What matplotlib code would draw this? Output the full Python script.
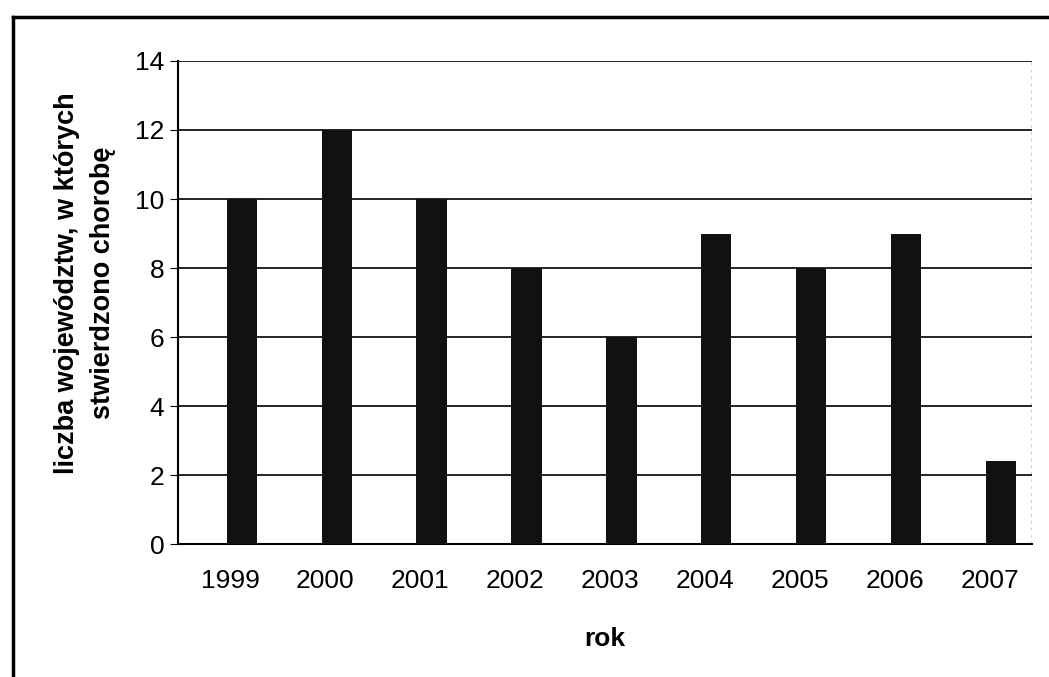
import matplotlib.pyplot as plt
from matplotlib.lines import Line2D
import numpy as np

plt.rcParams['font.family'] = ['Liberation Sans', 'DejaVu Sans']

# dane z wykresu
lata = ["1999", "2000", "2001", "2002", "2003", "2004", "2005", "2006", "2007"]
liczba = [10, 12, 10, 8, 6, 9, 8, 9, 2.4]

x = np.arange(len(lata))

fig = plt.figure(figsize=(10.49, 6.77), dpi=100)
ax = fig.add_axes([0.170, 0.196, 0.814, 0.714])

ax.bar(x + 0.12, liczba, width=0.32, color="#111111", zorder=3)

ax.set_ylim(0, 14)
ax.set_yticks(range(0, 15, 2))
ax.set_xlim(-0.55, 8.45)
ax.set_xticks(x)
ax.set_xticklabels(lata)
ax.tick_params(axis="x", length=0, pad=18, labelsize=19)
ax.tick_params(axis="y", length=6, direction="out", labelsize=19, pad=4)
ax.yaxis.grid(True, color="black", linewidth=1.2, zorder=0)

for s in ["top", "right"]:
    ax.spines[s].set_visible(False)
ax.spines["left"].set_linewidth(1.5)
ax.spines["bottom"].set_linewidth(1.5)
ax.axvline(8.45, color="black", linewidth=1, linestyle=(0, (2, 3)), zorder=1)

ax.set_xlabel("rok", fontsize=19, fontweight="bold", labelpad=24)
ax.set_ylabel("liczba województw, w których\nstwierdzono chorobę",
              fontsize=19.5, fontweight="bold", linespacing=1.5)
ax.yaxis.set_label_coords(-0.073, 0.54)

# ramka wokół wykresu
fig.add_artist(Line2D([13/1049, 1], [1 - 17/677, 1 - 17/677], color="black", linewidth=2.5))
fig.add_artist(Line2D([13/1049, 13/1049], [0, 1 - 17/677], color="black", linewidth=2.5))

fig.savefig("out.png", dpi=100)
